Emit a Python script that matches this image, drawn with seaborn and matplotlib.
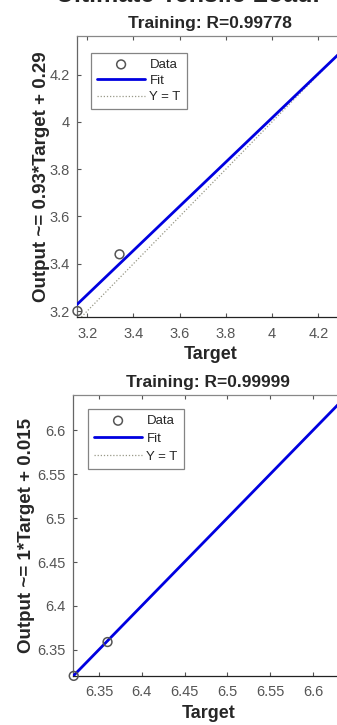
import numpy as np
import pandas as pd
import matplotlib
matplotlib.use("Agg")
import matplotlib.pyplot as plt
import seaborn as sns

# ---- data ----
titles = ["Training: R=0.99778", "Training: R=0.99999"]
ylabels = ["Output ~= 0.93*Target + 0.29", "Output ~= 1*Target + 0.015"]
target_1 = [3.158, 3.34]
output_1 = [3.20, 3.44]
target_2 = [6.3205, 6.36]
output_2 = [6.3205, 6.359]
fit_slope = [0.935, 0.9977]
fit_intercept = [0.277, 0.015]
xlims = [(3.156, 4.31), (6.3193, 6.636)]
ylims = [(3.175, 4.363), (6.3207, 6.64)]
xticks_1 = [3.2, 3.4, 3.6, 3.8, 4.0, 4.2]
xticklabels_1 = ["3.2", "3.4", "3.6", "3.8", "4", "4.2"]
yticks_1 = [3.2, 3.4, 3.6, 3.8, 4.0, 4.2]
yticklabels_1 = ["3.2", "3.4", "3.6", "3.8", "4", "4.2"]
xticks_2 = [6.35, 6.4, 6.45, 6.5, 6.55, 6.6]
xticklabels_2 = ["6.35", "6.4", "6.45", "6.5", "6.55", "6.6"]
yticks_2 = [6.35, 6.4, 6.45, 6.5, 6.55, 6.6]
yticklabels_2 = ["6.35", "6.4", "6.45", "6.5", "6.55", "6.6"]

sns.set_theme(style="white")
plt.rcParams["font.family"] = ["Liberation Sans", "DejaVu Sans"]

W, H = 337, 725
fig = plt.figure(figsize=(W / 100, H / 100), dpi=100)

positions = [
    (77 / W, 1 - 317 / H, 1.02 - 77 / W, (317 - 36) / H),
    (72.7 / W, 1 - 675.7 / H, 1.02 - 72.7 / W, (675.7 - 395) / H),
]
legend_anchor = [(13.7 / 266, 1 - 16.7 / 281), (15 / 271, 1 - 14 / 280.7)]
ylabel_pad = [0, 2]
legend_spacing = [0.3, 0.42]
datasets = [
    (target_1, output_1, xticks_1, xticklabels_1, yticks_1, yticklabels_1),
    (target_2, output_2, xticks_2, xticklabels_2, yticks_2, yticklabels_2),
]

for i in range(2):
    tx, oy, xt, xtl, yt, ytl = datasets[i]
    ax = fig.add_axes(positions[i])
    xl = np.array(xlims[i])
    df_fit = pd.DataFrame({"x": xl, "y": fit_slope[i] * xl + fit_intercept[i]})
    df_id = pd.DataFrame({"x": xl, "y": xl})
    df_data = pd.DataFrame({"x": tx, "y": oy})
    sns.lineplot(data=df_id, x="x", y="y", ax=ax, color="#999988", lw=0.9,
                 linestyle=(0, (1, 1.5)), label="Y = T", zorder=2)
    sns.lineplot(data=df_fit, x="x", y="y", ax=ax, color="#0000e0", lw=2.0,
                 label="Fit", zorder=3)
    sns.scatterplot(data=df_data, x="x", y="y", ax=ax, marker="o", s=40,
                    facecolors="none", edgecolor="#555555", linewidth=1.1,
                    label="Data", zorder=4, clip_on=False)
    ax.set_xlim(*xlims[i])
    ax.set_ylim(*ylims[i])
    ax.set_xticks(xt)
    ax.set_xticklabels(xtl)
    ax.set_yticks(yt)
    ax.set_yticklabels(ytl)
    ax.tick_params(axis="both", direction="in", length=3, width=0.8,
                   labelsize=10.5, labelcolor="#555555", color="#555555",
                   top=True, bottom=True, left=True, right=False)
    ax.tick_params(axis="x", pad=7)
    ax.tick_params(axis="y", pad=5)
    ax.spines["right"].set_visible(False)
    ax.spines["top"].set_color("#888888")
    ax.spines["left"].set_color("#666666")
    ax.spines["bottom"].set_color("#222222")
    for s in ax.spines.values():
        s.set_linewidth(0.9)
    ax.set_title(titles[i], fontsize=12.5, fontweight="bold", pad=6)
    ax.set_xlabel("Target", fontsize=13, fontweight="bold", labelpad=4)
    ax.set_ylabel(ylabels[i], fontsize=13.5, fontweight="bold",
                  labelpad=ylabel_pad[i])
    handles, labels = ax.get_legend_handles_labels()
    order = [labels.index("Data"), labels.index("Fit"), labels.index("Y = T")]
    leg = ax.legend([handles[k] for k in order], [labels[k] for k in order],
                    loc="upper left", fontsize=9.5, frameon=True, fancybox=False,
                    edgecolor="#666666", handlelength=3.7, handletextpad=0.3,
                    borderpad=0.45, labelspacing=legend_spacing[i],
                    borderaxespad=0, bbox_to_anchor=legend_anchor[i])
    leg.get_frame().set_linewidth(0.9)

fig.text(0.558, 1 - 2.5 / H, "Ultimate Tensile Load.", ha="center", va="baseline",
         fontsize=18, fontweight="bold")

fig.savefig("out.png", dpi=100)
